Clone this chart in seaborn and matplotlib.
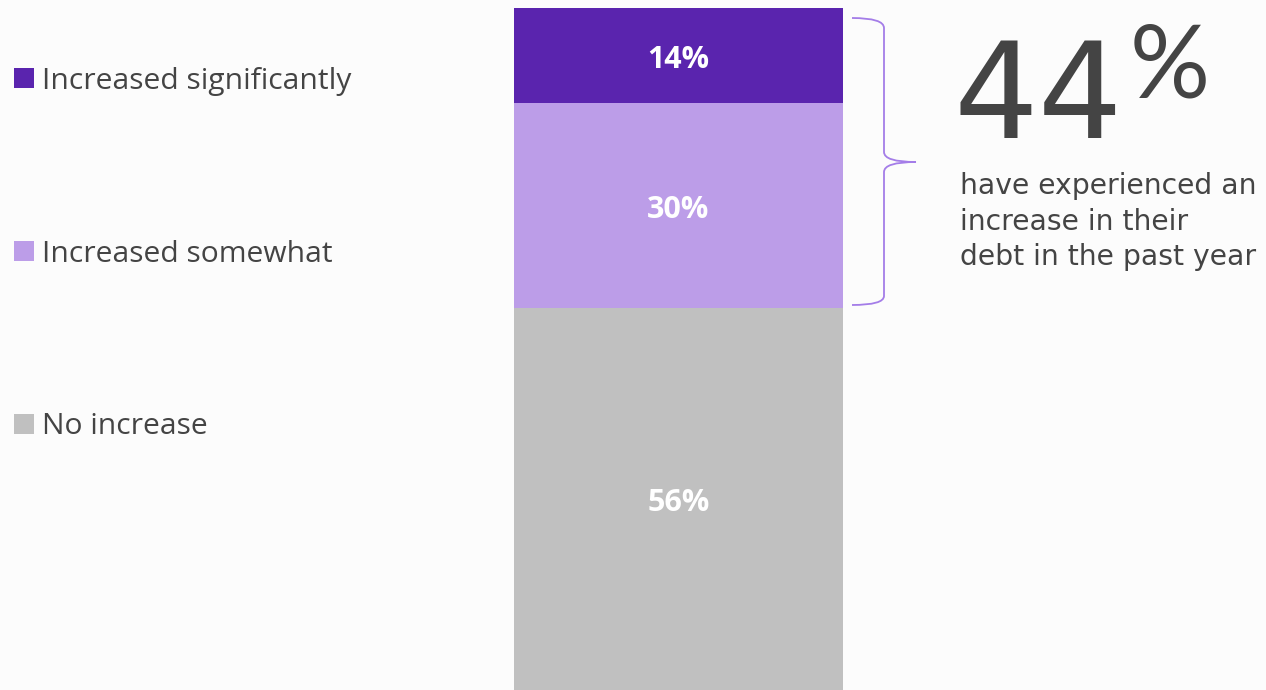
import pandas as pd
import seaborn as sns
import matplotlib.pyplot as plt
from matplotlib.path import Path
from matplotlib.patches import PathPatch, Rectangle

categories = ['Increased significantly', 'Increased somewhat', 'No increase']
shares = [14, 30, 56]
colors = ['#5a24ae', '#bc9de8', '#c0c0c0']
headline = '44'
headline_note = ['have experienced an', 'increase in their', 'debt in the past year']

W, H = 1266, 690
bg = '#fcfcfc'
text_color = '#444444'

sns.set_theme(style='white')
plt.rcParams['font.family'] = ['Open Sans', 'DejaVu Sans']

fig = plt.figure(figsize=(W / 100, H / 100), dpi=100, facecolor=bg)

# stacked column, built bottom-up
df = pd.DataFrame({'cat': categories, 'share': shares, 'color': colors}).iloc[::-1]
df['top'] = df['share'].cumsum()
df['bottom'] = df['top'] - df['share']

ax = fig.add_axes([514 / W, 0, 329 / W, 682 / H])
ax.set_facecolor(bg)
for _, r in df.iloc[::-1].iterrows():  # tallest first so shorter ones sit on top
    sns.barplot(x=['all'], y=[r['top']], color=r['color'], width=1,
                saturation=1, linewidth=0, ax=ax)
for _, r in df.iterrows():
    ax.text(0, (r['top'] + r['bottom']) / 2 - 0.6, f"{r['share']}%", ha='center', va='center',
            color='white', fontsize=22, fontweight='bold')
ax.set_xlim(-0.5, 0.5)
ax.set_ylim(0, 100)
ax.axis('off')

# overlay in pixel coordinates for the legend, brace and callout
ov = fig.add_axes([0, 0, 1, 1])
ov.set_xlim(0, W)
ov.set_ylim(H, 0)
ov.patch.set_alpha(0)
ov.axis('off')

for i, (cat, col) in enumerate(zip(categories, colors)):
    y = 78 + i * 173
    ov.add_patch(Rectangle((14, y - 10), 20, 20, color=col, lw=0))
    ov.text(42, y + 3, cat, ha='left', va='center', fontsize=21.6, color=text_color)

brace = Path(
    [(852, 18), (884, 18), (884, 28),
     (884, 152),
     (884, 162), (916, 162),
     (884, 162), (884, 172),
     (884, 296),
     (884, 305), (852, 305)],
    [Path.MOVETO, Path.CURVE3, Path.CURVE3,
     Path.LINETO,
     Path.CURVE3, Path.CURVE3,
     Path.CURVE3, Path.CURVE3,
     Path.LINETO,
     Path.CURVE3, Path.CURVE3])
ov.add_patch(PathPatch(brace, fill=False, edgecolor='#a47de8', lw=1.3))

ov.text(954, 138, headline, ha='left', va='baseline', fontsize=96,
        family='DejaVu Sans', fontweight='normal', color=text_color)
ov.text(1130, 97, '%', ha='left', va='baseline', fontsize=72,
        family='Lato', fontweight='normal', color=text_color)
for i, line in enumerate(headline_note):
    ov.text(960, 194 + i * 35.5, line, ha='left', va='baseline', fontsize=20.3,
            family='DejaVu Sans', color=text_color)

fig.savefig('out.png', dpi=100, facecolor=bg)
